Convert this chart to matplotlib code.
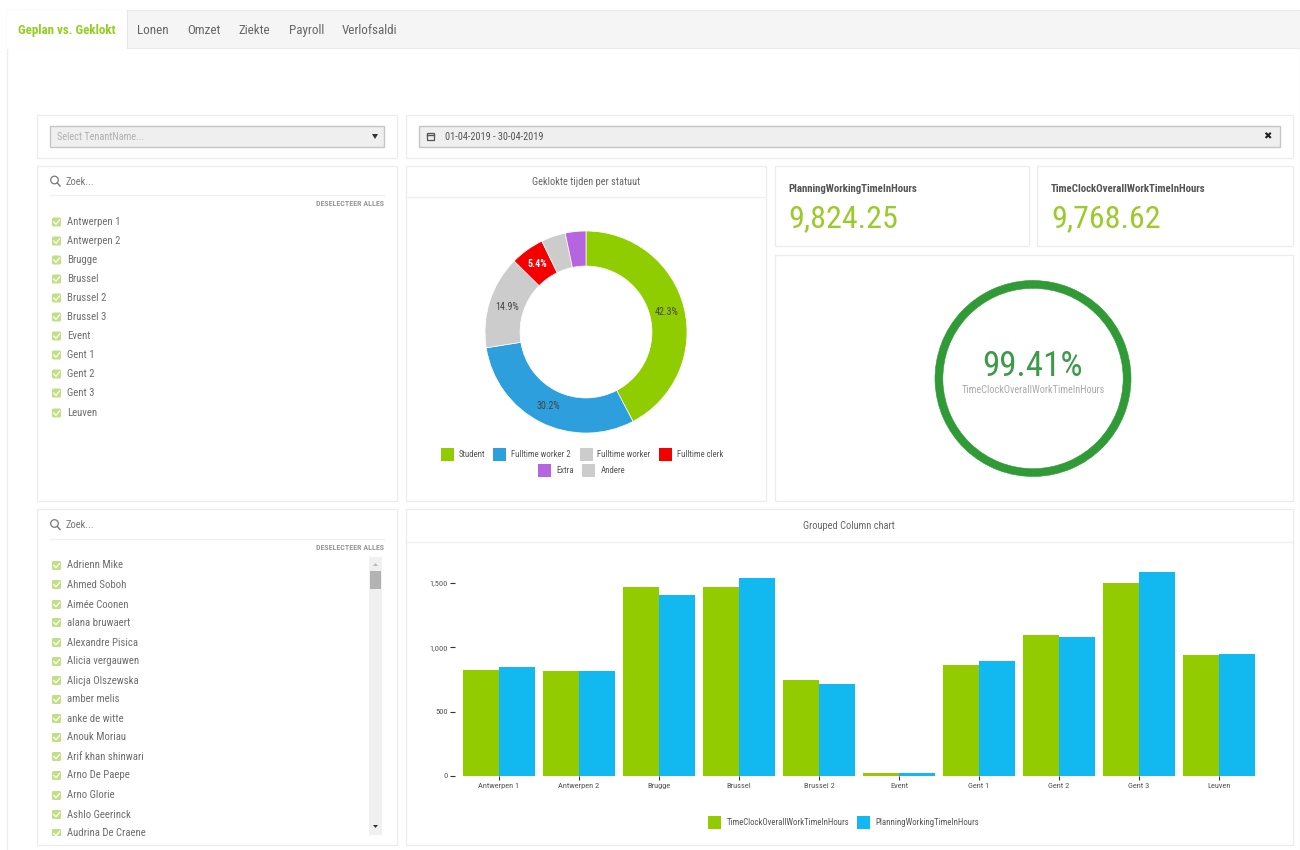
import matplotlib
matplotlib.use("Agg")
import matplotlib.pyplot as plt
from matplotlib import font_manager as fm
from matplotlib.patches import Rectangle, FancyBboxPatch, Circle, Polygon

# ---------- data ----------
tabs = ["Geplan vs. Geklokt", "Lonen", "Omzet", "Ziekte", "Payroll", "Verlofsaldi"]
tab_x = [18, 137, 187, 238, 289, 342]
stores = ["Antwerpen 1", "Antwerpen 2", "Brugge", "Brussel", "Brussel 2", "Brussel 3",
          "Event", "Gent 1", "Gent 2", "Gent 3", "Leuven"]
store_y = [222, 241, 260, 279, 298, 317, 336, 355, 374, 393, 413]
people = ["Adrienn Mike", "Ahmed Soboh", "Aimée Coonen", "alana bruwaert", "Alexandre Pisica",
          "Alicia vergauwen", "Alicja Olszewska", "amber melis", "anke de witte", "Anouk Moriau",
          "Arif khan shinwari", "Arno De Paepe", "Arno Glorie", "Ashlo Geerinck", "Audrina De Craene"]
people_y = [565.5, 584.5, 604.5, 622.5, 642.5, 661.5, 680.5, 699.5, 718.5, 737.5, 756.5, 775.5, 795.5, 814.5, 833.5]

status_names = ["Student", "Fulltime worker 2", "Fulltime worker", "Fulltime clerk", "Andere", "Extra"]
status_share = [42.3, 30.2, 14.9, 5.4, 3.9, 3.3]
status_colors = ["#8fcc00", "#2d9fdc", "#cccccc", "#f50000", "#cccccc", "#b565e0"]

categories = ["Antwerpen 1", "Antwerpen 2", "Brugge", "Brussel", "Brussel 2",
              "Event", "Gent 1", "Gent 2", "Gent 3", "Leuven"]
clocked = [821, 819, 1469, 1466, 746, 25, 865, 1096, 1503, 938]
planned = [845, 813, 1404, 1536, 715, 22, 891, 1080, 1583, 951]
y_ticks = [0, 500, 1000, 1500]
y_tick_labels = ["0", "500", "1,000", "1,500"]

kpi_planned = "9,824.25"
kpi_clocked = "9,768.62"
gauge_pct = 99.41

# ---------- setup ----------
names = {f.name for f in fm.fontManager.ttflist}
FONT = next((n for n in ["Roboto Condensed", "Liberation Sans Narrow", "Roboto"] if n in names), "Roboto")
plt.rcParams["font.family"] = [FONT, "DejaVu Sans"]

W, H = 1300, 850
fig = plt.figure(figsize=(13, 8.5), dpi=100, facecolor="white")
bg = fig.add_axes([0, 0, 1, 1])
bg.set_xlim(0, W)
bg.set_ylim(H, 0)
bg.axis("off")


def px_axes(x0, y0, x1, y1, **kw):
    return fig.add_axes([x0 / W, 1 - y1 / H, (x1 - x0) / W, (y1 - y0) / H], **kw)


def txt(x, y, s, px=12, color="#666666", ha="left", weight="normal", **kw):
    return bg.text(x, y, s, fontsize=px * 0.72, color=color, ha=ha, va="center",
                   fontweight=weight, **kw)


def panel(x0, y0, x1, y1, header=None):
    bg.add_patch(Rectangle((x0, y0), x1 - x0, y1 - y0, fc="white", ec="#ececec", lw=0.9))
    if header:
        bg.plot([x0, x1], [header, header], color="#f0f0f0", lw=1)


def checkbox(y):
    bg.add_patch(FancyBboxPatch((53, y - 3.5), 7, 7, boxstyle="round,pad=1,rounding_size=1.5",
                                fc="#c2df85", ec="none"))
    bg.plot([53.8, 56, 59.5], [y, y + 2.3, y - 2], color="white", lw=0.9)


def search(y):
    bg.add_patch(Circle((54.5, y - 1), 3.8, fc="none", ec="#777777", lw=0.9))
    bg.plot([57.3, 60], [y + 2, y + 5], color="#777777", lw=1)
    txt(66, y + 0.5, "Zoek...", 10.5, "#777777")


# page frame and tab bar
bg.add_patch(Rectangle((7, 10), 1293, 845, fc="white", ec="#eeeeee", lw=0.9))
bg.add_patch(Rectangle((7, 10), 1293, 38, fc="#f5f5f5", ec="#eaeaea", lw=0.8))
bg.add_patch(Rectangle((7, 10), 120, 39, fc="white", ec="none"))
bg.plot([127, 127], [10, 48], color="#e6e6e6", lw=0.8)
for i, (t, x) in enumerate(zip(tabs, tab_x)):
    if i == 0:
        txt(x, 30, t, 13, "#93cf1e", weight="bold")
    else:
        txt(x, 30, t, 13, "#666666")

# panels
panel(37, 115, 397, 158)
panel(406, 115, 1293, 158)
panel(37, 166, 397, 501)
panel(406, 166, 766, 501, header=197)
panel(775, 166, 1029, 246)
panel(1037, 166, 1293, 246)
panel(775, 255, 1293, 501)
panel(37, 509, 397, 845)
panel(406, 509, 1293, 845, header=542)

# filter row
for x0, x1 in [(50, 384), (419, 1280)]:
    bg.add_patch(Rectangle((x0, 126), x1 - x0, 21, fc="#efefef", ec="#c6c6c6", lw=1))
txt(57, 136.5, "Select TenantName...", 10.2, "#b0b0b0")
bg.add_patch(Polygon([(372, 134), (378, 134), (375, 139)], fc="#333333", ec="none"))
bg.add_patch(Rectangle((427, 133), 7, 7, fc="none", ec="#555555", lw=0.9))
bg.plot([427, 434], [135, 135], color="#555555", lw=1)
txt(445, 136.5, "01-04-2019 - 30-04-2019", 10.3, "#555555")
txt(1267, 136.5, "✖", 10, "#222222", ha="center")

# lists
search(181)
bg.plot([50, 384], [195, 195], color="#f0f0f0", lw=1)
txt(384, 203.5, "DESELECTEER ALLES", 8, "#999999", ha="right", weight="bold")
for name, y in zip(stores, store_y):
    checkbox(y)
    txt(67, y, name, 10.7, "#6e6e6e")

search(524.5)
bg.plot([50, 384], [539, 539], color="#f0f0f0", lw=1)
txt(384, 547.5, "DESELECTEER ALLES", 8, "#999999", ha="right", weight="bold")
for name, y in zip(people, people_y):
    checkbox(y)
    txt(67, y, name, 10.7, "#6e6e6e")
# the list scrolls: its last row is cut off at the bottom
bg.add_patch(Rectangle((45, 835.5), 322, 8, fc="white", ec="none", zorder=4))
bg.add_patch(Rectangle((369, 557), 13, 278, fc="#f0f0f0", ec="none"))
bg.add_patch(Rectangle((370, 571), 11, 18, fc="#b3b3b3", ec="none"))
bg.add_patch(Polygon([(373, 566), (378, 566), (375.5, 563)], fc="#bbbbbb", ec="none"))
bg.add_patch(Polygon([(373, 825), (378, 825), (375.5, 828)], fc="#333333", ec="none"))

# donut
txt(586, 182, "Geklokte tijden per statuut", 10.4, "#666666", ha="center")
ax_d = px_axes(485, 231, 687, 433)
wedges, _, autos = ax_d.pie(status_share, colors=status_colors, startangle=90, counterclock=False,
                            radius=1, autopct="%.1f%%", pctdistance=0.825,
                            wedgeprops=dict(width=0.347, edgecolor="white", linewidth=0.5),
                            textprops=dict(fontsize=7.2, color="#444444"))
for a, v in zip(autos, status_share):
    if v < 5:
        a.set_visible(False)
    if v == 5.4:
        a.set_color("white")
        a.set_fontweight("bold")
ax_d.set_xlim(-1, 1)
ax_d.set_ylim(-1, 1)

legend_pos = {"Student": (441, 454.5, 459), "Fulltime worker 2": (493, 454.5, 511),
              "Fulltime worker": (580, 454.5, 597), "Fulltime clerk": (659, 454.5, 677),
              "Extra": (538, 470.5, 556), "Andere": (582, 470.5, 601)}
for name, col in zip(status_names, status_colors):
    sx, sy, tx = legend_pos[name]
    bg.add_patch(Rectangle((sx, sy - 6.5), 13, 13, fc=col, ec="none"))
    txt(tx, sy, name, 8.8, "#555555")

# KPI tiles
txt(788, 189, "PlanningWorkingTimeInHours", 10.9, "#555555", weight="bold")
txt(788, 218.5, kpi_planned, 32, "#9acb2a")
txt(1051, 189, "TimeClockOverallWorkTimeInHours", 10.9, "#555555", weight="bold")
txt(1051, 218.5, kpi_clocked, 32, "#9acb2a")

# gauge
ax_g = px_axes(935, 280, 1131, 477)
ax_g.pie([gauge_pct, 100 - gauge_pct], colors=["#2f9a36", "#2f9a36"], startangle=90, counterclock=False,
         radius=1, wedgeprops=dict(width=0.08, edgecolor="#2f9a36", linewidth=0.4))
ax_g.set_xlim(-1, 1)
ax_g.set_ylim(-1, 1)
txt(1033, 366, f"{gauge_pct:.2f}%", 35, "#3d9a48", ha="center")
txt(1033, 390, "TimeClockOverallWorkTimeInHours", 10.3, "#aaaaaa", ha="center")

# grouped columns
txt(849, 526, "Grouped Column chart", 10.4, "#666666", ha="center")
ax = px_axes(459, 560, 1259, 776)
ax.patch.set_alpha(0)
xs = list(range(len(categories)))
bw = 0.45
ax.bar([x - bw / 2 for x in xs], clocked, bw, color="#92cc00", linewidth=0)
ax.bar([x + bw / 2 for x in xs], planned, bw, color="#12b8f0", linewidth=0)
ax.set_xlim(-0.5, len(categories) - 0.5)
ax.set_ylim(0, 216 / 193 * 1500)
for s in ax.spines.values():
    s.set_visible(False)
ax.spines["left"].set_position(("outward", 3))
ax.set_xticks(xs, categories)
ax.set_yticks(y_ticks, y_tick_labels)
ax.tick_params(axis="x", length=3, width=0.8, color="#333333", labelsize=6, labelcolor="#555555", pad=2.2)
ax.tick_params(axis="y", length=3.5, width=0.8, color="#333333", labelsize=6, labelcolor="#555555", pad=1.5)

bg.add_patch(Rectangle((708, 816), 13, 13, fc="#92cc00", ec="none"))
txt(727, 822.5, "TimeClockOverallWorkTimeInHours", 8.8, "#555555")
bg.add_patch(Rectangle((857, 816), 13, 13, fc="#12b8f0", ec="none"))
txt(875, 822.5, "PlanningWorkingTimeInHours", 8.8, "#555555")

fig.savefig("out.png", dpi=100)
